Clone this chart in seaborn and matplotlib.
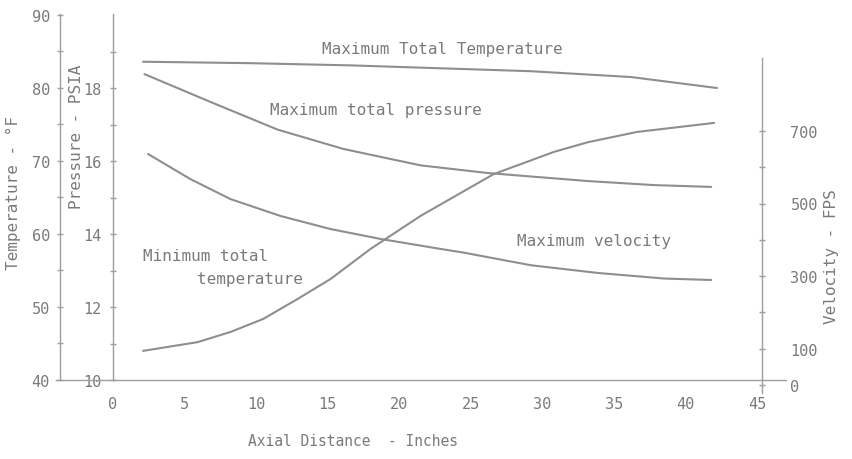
import matplotlib
matplotlib.use('Agg')
import matplotlib.pyplot as plt
import numpy as np
import pandas as pd
import seaborn as sns
from matplotlib.ticker import FixedLocator

sns.set_theme(style='white')
plt.rcParams['font.family'] = ['DejaVu Sans Mono', 'DejaVu Sans']

# ---- data ----
dist_max_temp = [2.1, 9.6, 16.6, 22.9, 29.2, 36.2, 42.2]
max_total_temp = [83.6, 83.4, 83.1, 82.7, 82.3, 81.5, 80.0]          # deg F

dist_pressure = [2.2, 6.8, 11.5, 16.1, 21.5, 26.2, 33.2, 37.8, 41.8]
max_total_pressure = [18.38, 17.62, 16.86, 16.33, 15.88, 15.67, 15.45, 15.34, 15.29]  # PSIA

dist_min_temp = [2.45, 5.4, 8.2, 11.7, 15.2, 18.7, 22.9, 24.5, 29.2, 33.9, 38.5, 41.8]
min_total_temp = [70.96, 67.53, 64.79, 62.47, 60.68, 59.32, 57.95, 57.45, 55.72, 54.66, 53.90, 53.70]

dist_velocity = [2.1, 5.9, 8.2, 10.5, 12.9, 15.2, 18.0, 21.5, 26.6, 30.8, 33.2, 36.6, 42.0]
max_velocity = [94, 118, 146, 182, 237, 292, 375, 466, 581, 642, 669, 697, 722]     # FPS

x_ticks = [0, 5, 10, 15, 20, 25, 30, 35, 40, 45]
pressure_ticks = [10, 12, 14, 16, 18]
pressure_minor = [11, 13, 15, 17, 19]
temp_ticks = [40, 50, 60, 70, 80, 90]
temp_minor = [45, 55, 65, 75, 85]
velocity_ticks = [0, 100, 300, 500, 700]
velocity_minor = [200, 400, 600]

LINE = '#8e8e8e'
AX = '#9e9e9e'
TXT = '#7a7a7a'

fig = plt.figure(figsize=(8.52, 4.6), dpi=100)
W, H = 852, 460
ax = fig.add_axes([113 / W, 1 - 381 / H, (762 - 113) / W, 366 / H])
axT = ax.twinx()
axV = fig.add_axes([113 / W, 1 - 386 / H, (762 - 113) / W, 371 / H], sharex=ax)
for a in (ax, axT, axV):
    a.set_facecolor('none')
    for s in a.spines.values():
        s.set_color(AX)
        s.set_linewidth(1.0)
    a.spines['top'].set_visible(False)

ax.set_xlim(0, 45 * 649 / 644)
ax.set_ylim(10, 10 + 366 / 36.5)
axT.set_ylim(40, 40 + 366 / 7.3)
axV.set_ylim(0, 371 / 0.363)

df_mt = pd.DataFrame({'x': dist_max_temp, 'y': max_total_temp})
df_p = pd.DataFrame({'x': dist_pressure, 'y': max_total_pressure})
df_nt = pd.DataFrame({'x': dist_min_temp, 'y': min_total_temp})
df_v = pd.DataFrame({'x': dist_velocity, 'y': max_velocity})

kw = dict(color=LINE, linewidth=1.5, legend=False)
sns.lineplot(data=df_mt, x='x', y='y', ax=axT, **kw)
sns.lineplot(data=df_nt, x='x', y='y', ax=axT, **kw)
sns.lineplot(data=df_p, x='x', y='y', ax=ax, **kw)
sns.lineplot(data=df_v, x='x', y='y', ax=axV, **kw)

# main axis (pressure + x)
ax.spines['right'].set_visible(False)
ax.spines['bottom'].set_bounds(-4, 47)
ax.set_xticks(x_ticks)
ax.set_yticks(pressure_ticks)
ax.yaxis.set_minor_locator(FixedLocator(pressure_minor))
ax.tick_params(axis='x', direction='inout', length=5, width=1, colors=AX,
               labelcolor=TXT, labelsize=11, pad=9)
ax.tick_params(axis='y', which='both', direction='inout', length=5, width=1,
               colors=AX, labelcolor=TXT, labelsize=11, pad=6)
ax.set_xlabel('Axial Distance  - Inches', color=TXT, fontsize=10.5)
ax.set_ylabel('Pressure - PSIA', color=TXT, fontsize=11.5)

# temperature axis on the far left
axT.yaxis.set_ticks_position('left')
axT.yaxis.set_label_position('left')
axT.spines['left'].set_position(('outward', 38))
axT.spines['right'].set_visible(False)
axT.spines['bottom'].set_visible(False)
axT.set_yticks(temp_ticks)
axT.yaxis.set_minor_locator(FixedLocator(temp_minor))
axT.tick_params(axis='y', which='both', direction='inout', length=5, width=1,
                colors=AX, labelcolor=TXT, labelsize=11, pad=5)
axT.set_xlabel('')
axT.set_ylabel('Temperature - °F', color=TXT, fontsize=11.5)

# velocity axis on the right (baseline a few pixels lower, as in the scan)
axV.patch.set_visible(False)
axV.spines['left'].set_visible(False)
axV.spines['bottom'].set_visible(False)
axV.spines['right'].set_bounds(-22, 900)
axV.yaxis.set_ticks_position('right')
axV.yaxis.set_label_position('right')
axV.xaxis.set_visible(False)
axV.set_yticks(velocity_ticks)
axV.yaxis.set_minor_locator(FixedLocator(velocity_minor))
axV.tick_params(axis='y', which='both', direction='inout', length=5, width=1,
                colors=AX, labelcolor=TXT, labelsize=11, pad=18)
axV.set_xlabel('')
axV.set_ylabel('Velocity - FPS', color=TXT, fontsize=11.5, rotation=90)

# label positions
ax.xaxis.set_label_coords(0.37, -0.145)
ax.yaxis.set_label_coords(-0.045, 0.667)
axT.yaxis.set_label_coords(-0.142, 0.514)
axV.yaxis.set_label_coords(1.096, 0.35)

# curve annotations (pressure-axis data coords)
tk = dict(color=TXT, fontsize=11.5, va='center', ha='left')
ax.text(14.6, 19.07, 'Maximum Total Temperature', **tk)
ax.text(10.98, 17.42, 'Maximum total pressure', **tk)
ax.text(2.1, 13.40, 'Minimum total', **tk)
ax.text(5.87, 12.77, 'temperature', **tk)
ax.text(28.2, 13.81, 'Maximum velocity', **tk)

fig.savefig('out.png', dpi=100)
